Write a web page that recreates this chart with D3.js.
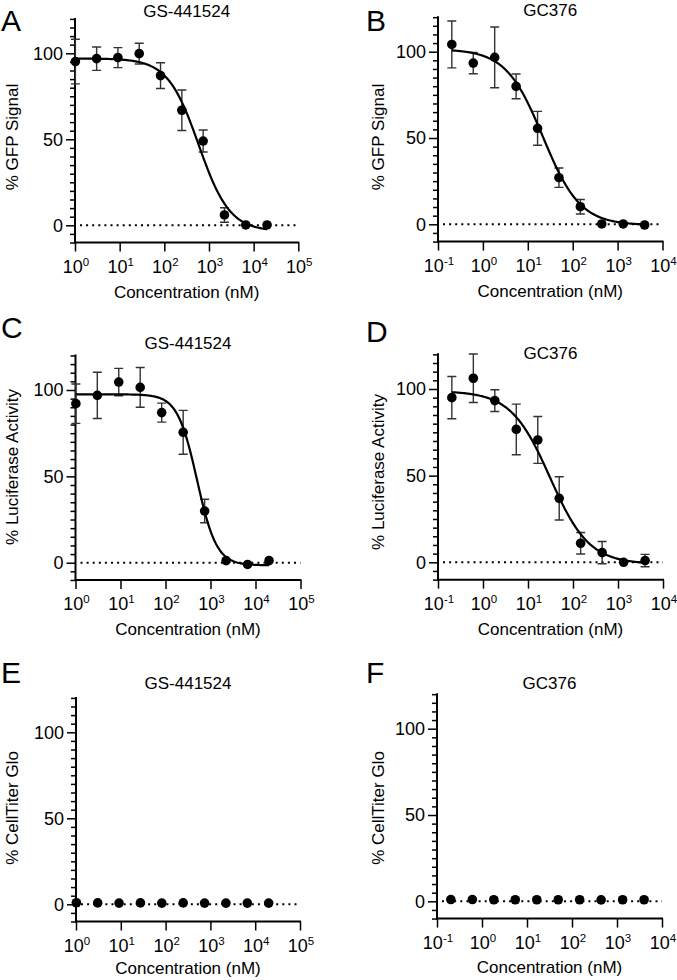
<!DOCTYPE html>
<html><head><meta charset="utf-8">
<script src="https://cdn.jsdelivr.net/npm/d3@7"></script>
<style>
body{margin:0;background:#fff}
text{font-family:"Liberation Sans",Arial,Helvetica,sans-serif;fill:#000}
</style>
</head><body>
<svg id="c" width="677" height="980"></svg>
<script>
// ---- concentrations (nM) ----
const concGS = [1.02, 3.05, 9.14, 27.4, 82.3, 247, 741, 2222, 6667, 20000];
const concGC = [0.203, 0.610, 1.83, 5.49, 16.5, 49.4, 148, 444, 1333, 4000];

// ---- % GFP signal ----
const gfpGSMean = [95.2, 96.9, 97.5, 99.8, 87.0, 66.9, 49.0, 6.0, 0.2, 0.2];
const gfpGSSd   = [13.0, 6.8, 5.8, 6.0, 7.5, 11.8, 6.4, 4.2, 0, 0];
const gfpGCMean = [104.2, 93.4, 96.7, 79.9, 55.6, 27.0, 10.2, 0.2, 0.2, -0.4];
const gfpGCSd   = [13.6, 6.2, 17.6, 7.2, 9.8, 5.6, 4.2, 0, 0, 0];

// ---- % Luciferase activity ----
const lucGSMean = [92.1, 96.9, 104.6, 101.5, 86.9, 75.5, 29.9, 1.2, -1.0, 1.2];
const lucGSSd   = [11.4, 13.4, 7.9, 11.5, 5.5, 12.7, 6.8, 0, 0, 0];
const lucGCMean = [95.0, 106.2, 93.3, 76.7, 70.6, 36.9, 11.0, 5.6, 0.0, 1.0];
const lucGCSd   = [12.2, 14.0, 6.3, 14.6, 13.5, 12.5, 6.2, 6.4, 0, 3.6];

// ---- % CellTiter Glo ----
const ctgGSMean = [0.9, 0.8, 0.7, 0.8, 0.7, 0.8, 0.7, 0.7, 0.7, 0.7];
const ctgGSSd   = [0, 0, 0, 0, 0, 0, 0, 0, 0, 0];
const ctgGCMean = [1.0, 1.0, 0.9, 0.9, 0.9, 0.9, 0.9, 0.8, 0.9, 0.9];
const ctgGCSd   = [0, 0, 0, 0, 0, 0, 0, 0, 0, 0];

// ---- 4-parameter logistic fits: [top, bottom, log10 IC50, hill] ----
const fitGfpGS = [97.0, -3.5, 2.77, 1.25];
const fitGfpGC = [101.5, -0.5, 1.34, 1.05];
const fitLucGS = [97.5, -1.5, 2.70, 2.0];
const fitLucGC = [98.8, -1.0, 1.49, 1.0];

// ---- tick labels ----
const yMajorTicks = [0, 50, 100];
const yMinorStep = 5;
const yDomain = [-10, 120];
const xExpGS = [0, 1, 2, 3, 4, 5];
const xExpGC = [-1, 0, 1, 2, 3, 4];
const drugTitles = ["GS-441524", "GC376"];
const yLabels = ["% GFP Signal", "% Luciferase Activity", "% CellTiter Glo"];
const xLabel = "Concentration (nM)";
const panelLetters = ["A", "B", "C", "D", "E", "F"];

// ---- layout (pixel geometry only) ----
const layout = [
  {left:75,   right:298.3, y0:225.3, y100:53.3,  titleY:16.5,  letter:[1,31],    ylab:[18,137],  xlab:55},
  {left:438,  right:662.5, y0:224.3, y100:51.7,  titleY:15.5,  letter:[366,31],  ylab:[384,137], xlab:55},
  {left:75.5, right:300.5, y0:562.7, y100:390,   titleY:349,   letter:[1,338],   ylab:[18,467],  xlab:55},
  {left:438,  right:663,   y0:562.3, y100:389,   titleY:358.5, letter:[366,342], ylab:[384,472], xlab:55},
  {left:76,   right:300,   y0:904.3, y100:732.3, titleY:689,   letter:[1,683],   ylab:[18,808],  xlab:52},
  {left:437,  right:662,   y0:901.3, y100:728.7, titleY:689,   letter:[366,683], ylab:[384,808], xlab:54}
];

const panels = [
  {conc:concGS, mean:gfpGSMean, sd:gfpGSSd, fit:fitGfpGS, exps:xExpGS, title:drugTitles[0], ylabel:yLabels[0]},
  {conc:concGC, mean:gfpGCMean, sd:gfpGCSd, fit:fitGfpGC, exps:xExpGC, title:drugTitles[1], ylabel:yLabels[0]},
  {conc:concGS, mean:lucGSMean, sd:lucGSSd, fit:fitLucGS, exps:xExpGS, title:drugTitles[0], ylabel:yLabels[1]},
  {conc:concGC, mean:lucGCMean, sd:lucGCSd, fit:fitLucGC, exps:xExpGC, title:drugTitles[1], ylabel:yLabels[1]},
  {conc:concGS, mean:ctgGSMean, sd:ctgGSSd, fit:null, exps:xExpGS, title:drugTitles[0], ylabel:yLabels[2]},
  {conc:concGC, mean:ctgGCMean, sd:ctgGCSd, fit:null, exps:xExpGC, title:drugTitles[1], ylabel:yLabels[2]}
];

const svg = d3.select("#c");
const FONT = 17;
const TICKFONT = 18;

function logistic(p, logx) {
  const [top, bottom, logic, hill] = p;
  return bottom + (top - bottom) / (1 + Math.pow(10, (logx - logic) * hill));
}

panels.forEach((p, i) => {
  const L = layout[i];
  const g = svg.append("g");
  const k = (L.y0 - L.y100) / 100;
  const y = d3.scaleLinear().domain(yDomain)
    .range([L.y0 - yDomain[0] * k, L.y0 - yDomain[1] * k]);
  const x = d3.scaleLog()
    .domain([Math.pow(10, p.exps[0]), Math.pow(10, p.exps[p.exps.length - 1])])
    .range([L.left, L.right]);
  const xAxisY = y(yDomain[0]);

  // y minor ticks
  const minorVals = d3.range(yDomain[0], yDomain[1] + 0.01, yMinorStep)
    .filter(v => !yMajorTicks.includes(v));
  const yMinor = g.append("g").attr("transform", `translate(${L.left},0)`)
    .call(d3.axisLeft(y).tickValues(minorVals).tickSize(5).tickSizeOuter(0).tickFormat(""));
  yMinor.select(".domain").remove();
  yMinor.selectAll("line").attr("stroke", "#000").attr("stroke-width", 1.5);

  // y major ticks + labels
  const yMajor = g.append("g").attr("transform", `translate(${L.left},0)`)
    .call(d3.axisLeft(y).tickValues(yMajorTicks).tickSize(9).tickSizeOuter(0).tickPadding(3));
  yMajor.select(".domain").remove();
  yMajor.selectAll("line").attr("stroke", "#000").attr("stroke-width", 1.5);
  yMajor.selectAll("text").attr("font-size", TICKFONT)
    .attr("font-family", '"Liberation Sans",Arial,sans-serif').attr("fill", "#000");

  // x axis ticks
  const xAx = g.append("g").attr("transform", `translate(0,${xAxisY})`)
    .call(d3.axisBottom(x).tickValues(p.exps.map(e => Math.pow(10, e)))
      .tickSize(9).tickSizeOuter(0).tickFormat(""));
  xAx.select(".domain").remove();
  xAx.selectAll("line").attr("stroke", "#000").attr("stroke-width", 1.5);

  // x tick labels 10^n
  p.exps.forEach(e => {
    const t = g.append("text")
      .attr("x", x(Math.pow(10, e)) + 1)
      .attr("y", xAxisY + 30)
      .attr("text-anchor", "middle")
      .attr("font-size", TICKFONT);
    t.append("tspan").text("10");
    t.append("tspan").attr("font-size", 11.5).attr("dy", -7).text(String(e));
  });

  // axis lines
  g.append("path")
    .attr("d", `M${L.left},${y(yDomain[1])}V${xAxisY}H${L.right}`)
    .attr("fill", "none").attr("stroke", "#000").attr("stroke-width", 2)
    .attr("stroke-linejoin", "miter").attr("stroke-linecap", "square");

  // dotted zero line
  g.append("line")
    .attr("x1", L.left + 5).attr("x2", L.right)
    .attr("y1", y(0)).attr("y2", y(0))
    .attr("stroke", "#000").attr("stroke-width", 2)
    .attr("stroke-dasharray", "2,4.1");

  // error bars
  const eb = g.append("g").attr("stroke", "#333").attr("stroke-width", 1.4).attr("fill", "none");
  p.conc.forEach((c, j) => {
    const s = p.sd[j];
    if (!s) return;
    const cx = x(c), hi = y(p.mean[j] + s), lo = y(p.mean[j] - s);
    eb.append("path").attr("d",
      `M${cx},${hi}V${lo}M${cx - 4.5},${hi}H${cx + 4.5}M${cx - 4.5},${lo}H${cx + 4.5}`);
  });

  // fitted curve
  if (p.fit) {
    const lo = Math.log10(p.conc[0]), hi = Math.log10(p.conc[p.conc.length - 1]);
    const pts = d3.range(0, 201).map(n => lo + (hi - lo) * n / 200);
    g.append("path")
      .datum(pts)
      .attr("d", d3.line().x(lx => x(Math.pow(10, lx))).y(lx => y(logistic(p.fit, lx))))
      .attr("fill", "none").attr("stroke", "#000").attr("stroke-width", 2.2);
  }

  // points
  g.selectAll("circle.pt").data(p.conc).join("circle")
    .attr("cx", c => x(c)).attr("cy", (c, j) => y(p.mean[j]))
    .attr("r", 4.8).attr("fill", "#000");

  // title
  g.append("text").attr("x", (L.left + L.right) / 2).attr("y", L.titleY)
    .attr("text-anchor", "middle").attr("font-size", FONT).text(p.title);

  // x label
  g.append("text").attr("x", (L.left + L.right) / 2).attr("y", xAxisY + L.xlab)
    .attr("text-anchor", "middle").attr("font-size", FONT).text(xLabel);

  // y label
  g.append("text")
    .attr("transform", `translate(${L.ylab[0]},${L.ylab[1]}) rotate(-90)`)
    .attr("text-anchor", "middle").attr("font-size", FONT).text(p.ylabel);

  // panel letter
  g.append("text").attr("x", L.letter[0]).attr("y", L.letter[1])
    .attr("font-size", 30).text(panelLetters[i]);
});
</script>
</body></html>
